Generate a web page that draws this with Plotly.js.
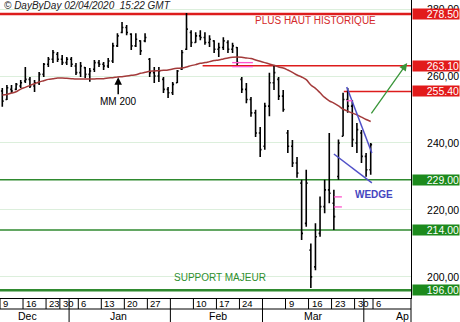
<!DOCTYPE html>
<html><head><meta charset="utf-8">
<script src="https://cdn.plot.ly/plotly-3.0.1.min.js"></script>
<style>html,body{margin:0;padding:0;background:#fff}#c{width:460px;height:322px}</style>
</head><body><div id="c"></div>
<script>
const dates = ['2019-12-09','2019-12-10','2019-12-11','2019-12-12','2019-12-13','2019-12-16','2019-12-17','2019-12-18','2019-12-19','2019-12-20','2019-12-23','2019-12-24','2019-12-27','2019-12-30','2019-12-31','2020-01-02','2020-01-03','2020-01-06','2020-01-07','2020-01-08','2020-01-09','2020-01-10','2020-01-13','2020-01-14','2020-01-15','2020-01-16','2020-01-17','2020-01-20','2020-01-21','2020-01-22','2020-01-23','2020-01-24','2020-01-27','2020-01-28','2020-01-29','2020-01-30','2020-01-31','2020-02-03','2020-02-04','2020-02-05','2020-02-06','2020-02-07','2020-02-10','2020-02-11','2020-02-12','2020-02-13','2020-02-14','2020-02-17','2020-02-18','2020-02-19','2020-02-20','2020-02-21','2020-02-24','2020-02-25','2020-02-26','2020-02-27','2020-02-28','2020-03-02','2020-03-03','2020-03-04','2020-03-05','2020-03-06','2020-03-09','2020-03-10','2020-03-11','2020-03-12','2020-03-13','2020-03-16','2020-03-17','2020-03-18','2020-03-19','2020-03-20','2020-03-23','2020-03-24','2020-03-25','2020-03-26','2020-03-27','2020-03-30','2020-03-31','2020-04-01','2020-04-02'];
const high = [256.4,257.3,257.3,257.9,258.8,262.7,259.7,258.8,261.2,263.9,265.7,267.8,267.2,266.3,265.7,265.7,263.9,264.2,262.7,262.4,264.8,264.8,264.2,265.4,269.9,272.8,276.1,275.2,272.8,272.8,270.7,272.8,265.4,262.7,262.7,259.7,256.7,258.2,261.8,267.8,278.8,273.7,273.1,273.7,273.1,272.2,270.7,269.9,271.6,270.7,269.9,268.7,259.7,257.9,253.7,249.9,244.8,252.0,261.0,263.3,259.7,255.8,243.9,240.9,235.8,229.0,232.0,210.0,216.0,224.0,229.0,243.0,226.0,241.0,255.0,256.4,252.8,246.0,243.9,237.0,240.0];
const low = [250.8,252.8,254.9,255.8,256.4,257.9,256.4,255.2,257.3,259.7,262.7,263.9,264.2,263.3,263.3,262.7,260.3,259.7,259.4,258.3,261.2,262.7,261.8,262.4,263.9,268.7,272.8,272.2,267.8,268.7,266.3,270.1,259.7,257.9,258.2,254.9,253.4,254.3,257.9,261.8,267.8,268.7,269.9,270.7,269.3,268.7,266.9,265.7,267.8,266.9,266.9,263.3,254.9,251.9,247.8,241.8,235.8,238.0,248.0,255.8,252.8,249.3,237.0,232.8,229.6,211.0,215.0,196.7,202.0,212.0,219.0,222.0,214.0,229.0,242.0,249.0,238.8,237.0,234.0,229.9,230.5];
const open = [255.5,253.0,256.0,256.0,257.0,258.5,259.0,257.0,258.0,260.5,263.5,265.0,266.5,265.0,264.0,265.0,263.0,261.0,262.5,260.5,262.0,264.0,263.5,263.0,264.5,269.0,273.0,274.5,272.5,269.0,270.5,270.5,265.0,261.0,260.0,259.0,256.0,255.0,258.0,262.0,268.0,273.0,270.0,272.0,271.5,270.0,270.5,268.0,268.5,270.0,268.0,268.5,259.0,256.0,253.0,249.0,243.0,239.0,251.0,258.0,259.0,254.0,243.0,239.0,234.0,228.0,216.0,208.0,203.0,213.0,221.0,226.0,222.0,230.0,242.0,253.0,251.0,240.0,243.0,236.0,232.0];
const close = [252.5,256.5,255.5,257.5,258.0,259.0,257.0,258.0,260.5,263.5,265.0,267.0,265.0,264.0,265.0,263.5,261.0,263.0,260.5,261.5,264.0,263.5,263.0,264.5,269.0,272.0,274.5,273.0,269.0,271.0,267.5,271.5,261.0,260.0,261.5,256.0,255.0,257.5,261.5,267.0,274.0,270.0,272.0,271.5,270.0,271.0,268.0,268.5,270.5,268.0,269.0,264.0,256.0,253.0,249.0,243.0,238.0,251.0,258.0,261.0,254.0,250.0,239.0,234.0,231.0,213.0,228.0,200.0,212.0,221.0,226.0,225.0,218.0,240.0,253.0,251.0,241.0,244.0,236.0,232.0,239.5];
const ma200 = [254.3,254.5,254.9,255.3,256.1,256.6,257.2,257.7,258.2,258.6,259.0,259.2,259.4,259.4,259.3,259.2,259.1,259.1,259.1,259.1,259.1,259.2,259.2,259.4,259.5,259.7,259.8,260.0,260.2,260.4,260.8,261.1,261.4,261.5,261.6,261.7,261.8,262.1,262.3,262.4,262.7,263.1,263.4,263.8,264.0,264.3,264.6,264.8,265.1,265.4,265.6,265.7,265.6,265.4,265.2,264.8,264.4,264.0,263.6,263.2,262.7,262.4,261.8,261.1,260.3,259.7,258.9,257.3,256.3,255.0,253.6,252.6,251.9,251.1,250.1,249.5,248.9,248.4,247.7,247.0,246.4];

const yTicks = [200, 220, 240, 260, 280];
const yTickText = ['200,00', '220,00', '240,00', '260,00', '280,00'];
const redLevels = [278.5, 263.1, 255.4];
const redLabels = ['278.50', '263.10', '255.40'];
const redStarts = ['2019-12-09', '2020-02-12', '2020-03-25 16:00'];
const greenLevels = [229, 214, 196];
const greenLabels = ['229.00', '214.00', '196.00'];
const dayTickDates = ['2019-12-09','2019-12-16','2019-12-23','2019-12-30','2020-01-06','2020-01-13','2020-01-20','2020-01-27','2020-02-10','2020-02-17','2020-02-24','2020-03-09','2020-03-16','2020-03-23','2020-03-30','2020-04-06'];
const dayTickLabels = ['9','16','23','30','6','13','20','27','10','17','24','9','16','23','30','6'];
const monthDividers = ['2020-01-02','2020-02-03','2020-03-02','2020-04-01'];
const monthLabelDates = ['2019-12-17','2020-01-16 16:00','2020-02-17 07:00','2020-03-17'];
const monthLabels = ['Dec','Jan','Feb','Mar'];
const wedgeUpper = {x: ['2020-03-26 07:00','2020-04-02 18:00'], y: [256.7, 237.0]};
const wedgeLower = {x: ['2020-03-23 12:00','2020-04-02 18:00'], y: [236.7, 228.1]};
const targetArrow = {x0: '2020-04-02 10:00', y0: 248.4, x1: '2020-04-15 10:00', y1: 263.9};
const pinkMarks = [
  {x0: '2020-02-20 10:00', x1: '2020-02-26 22:00', y: 264.0},
  {x0: '2020-02-20 10:00', x1: '2020-02-26 22:00', y: 262.8},
  {x0: '2020-03-23 12:00', x1: '2020-03-25 06:00', y: 223.9},
  {x0: '2020-03-23 12:00', x1: '2020-03-25 06:00', y: 220.9},
  {x0: '2020-03-26 06:00', x1: '2020-03-27 12:00', y: 252.6}
];
const xRange = ['2019-12-09', '2020-04-16 06:00'];
const yRange = [193.7, 282.7];

const FONT = 'Arial, Liberation Sans, sans-serif';
const NARROW = 'Liberation Sans Narrow, Arial Narrow, sans-serif';
const xs = dates.map(d => d + ' 12:00');

const traces = [
  {type: 'ohlc', x: xs, open: open, high: high, low: low, close: close,
   increasing: {line: {color: '#000', width: 1.6}}, decreasing: {line: {color: '#000', width: 1.6}},
   tickwidth: 0.3, hoverinfo: 'skip', showlegend: false},
  {type: 'scatter', mode: 'lines', x: xs, y: ma200, line: {color: '#a33a3a', width: 1.5, shape: 'spline'},
   hoverinfo: 'skip', showlegend: false}
];

const shapes = [];
redLevels.forEach((v, i) => shapes.push({type: 'line', layer: 'below', xref: 'x', yref: 'y',
  x0: redStarts[i], x1: xRange[1], y0: v, y1: v, line: {color: '#dd1c1c', width: i === 0 ? 2.5 : 1.5}}));
greenLevels.forEach((v, i) => shapes.push({type: 'line', layer: 'below', xref: 'x', yref: 'y',
  x0: xRange[0], x1: xRange[1], y0: v, y1: v, line: {color: '#2f8a2f', width: i === 2 ? 2.5 : 1.5}}));
[wedgeUpper, wedgeLower].forEach(w => shapes.push({type: 'line', xref: 'x', yref: 'y',
  x0: w.x[0], x1: w.x[1], y0: w.y[0], y1: w.y[1], line: {color: '#5050c8', width: 1.5}}));
pinkMarks.forEach(p => shapes.push({type: 'line', xref: 'x', yref: 'y',
  x0: p.x0, x1: p.x1, y0: p.y, y1: p.y, line: {color: '#ff55cc', width: 1.3}}));
// calendar strip
const H = 298;
const rowY = -11 / H, botY = -24 / H;
shapes.push({type: 'line', xref: 'paper', yref: 'paper', x0: 0, x1: 1, y0: rowY, y1: rowY, line: {color: '#000', width: 1}});
dayTickDates.forEach(d => shapes.push({type: 'line', xref: 'x', yref: 'paper', x0: d, x1: d, y0: 0, y1: rowY, line: {color: '#000', width: 1}}));
monthDividers.forEach(d => shapes.push({type: 'line', xref: 'x', yref: 'paper', x0: d, x1: d, y0: 0, y1: botY, line: {color: '#000', width: 1}}));
shapes.push({type: 'line', xref: 'paper', yref: 'paper', x0: 1, x1: 1, y0: botY, y1: 0, line: {color: '#000', width: 1}});

const annotations = [];
redLevels.forEach((v, i) => annotations.push({xref: 'paper', yref: 'y', x: 1, y: v, xanchor: 'left', xshift: 1,
  yanchor: 'middle', text: redLabels[i], showarrow: false, bgcolor: '#e21a1a', width: 46, height: 10,
  align: 'right', borderpad: 0, font: {family: FONT, size: 10.5, color: '#fff'}}));
greenLevels.forEach((v, i) => annotations.push({xref: 'paper', yref: 'y', x: 1, y: v, xanchor: 'left', xshift: 1,
  yanchor: 'middle', text: greenLabels[i], showarrow: false, bgcolor: '#1c8a1c', width: 46, height: 10,
  align: 'right', borderpad: 0, font: {family: FONT, size: 10.5, color: '#fff'}}));
dayTickDates.forEach((d, i) => annotations.push({xref: 'x', yref: 'paper', x: d, y: -5.5 / H, xanchor: 'left', xshift: 1,
  yanchor: 'middle', text: dayTickLabels[i], showarrow: false, font: {family: NARROW, size: 9.5, color: '#000'}}));
monthLabelDates.forEach((d, i) => annotations.push({xref: 'x', yref: 'paper', x: d, y: -18 / H, xanchor: 'center',
  yanchor: 'middle', text: monthLabels[i], showarrow: false, font: {family: FONT, size: 10.5, color: '#000'}}));
annotations.push({xref: 'paper', yref: 'paper', x: 1, y: -18 / H, xanchor: 'right', yanchor: 'middle', text: 'Ap',
  showarrow: false, font: {family: FONT, size: 10.5, color: '#000'}});
annotations.push({xref: 'paper', yref: 'paper', x: 0, y: 1 - 6 / H, xanchor: 'left', xshift: 2, yanchor: 'middle',
  text: '<i>© DayByDay 02/04/2020 \u00a015:22 GMT</i>', showarrow: false, font: {family: FONT, size: 10, color: '#222'}});
annotations.push({xref: 'x', yref: 'y', x: '2020-03-17 10:00', y: 276.5, yanchor: 'middle', text: 'PLUS HAUT HISTORIQUE',
  showarrow: false, font: {family: FONT, size: 10, color: '#d42a2a'}});
annotations.push({xref: 'x', yref: 'y', x: '2020-01-16 16:00', y: 259.6, text: 'MM 200', showarrow: true,
  ax: 0, ay: 24, arrowhead: 2, arrowsize: 1, arrowwidth: 1.5, arrowcolor: '#000', standoff: 0,
  font: {family: FONT, size: 10, color: '#000'}});
annotations.push({xref: 'x', yref: 'y', x: '2020-02-03 08:00', y: 199.9, text: 'SUPPORT MAJEUR', showarrow: false,
  xanchor: 'left', font: {family: FONT, size: 10, color: '#2f8f2f'}});
annotations.push({xref: 'x', yref: 'y', x: '2020-04-06 04:00', y: 224.5, text: '<b>WEDGE</b>', showarrow: false,
  font: {family: FONT, size: 10, color: '#4545c0'}});
annotations.push({xref: 'x', yref: 'y', axref: 'x', ayref: 'y', x: targetArrow.x1, y: targetArrow.y1,
  ax: targetArrow.x0, ay: targetArrow.y0, text: '', showarrow: true, arrowhead: 2, arrowsize: 1.2,
  arrowwidth: 1.3, arrowcolor: '#3a963a', standoff: 0});

const layout = {
  width: 460, height: 322, margin: {l: 0, r: 49, t: 0, b: 24},
  paper_bgcolor: '#fff', plot_bgcolor: '#fff', showlegend: false,
  xaxis: {type: 'date', range: xRange, showticklabels: false, ticks: '', showgrid: false, zeroline: false,
    showline: true, linecolor: '#000', linewidth: 1, fixedrange: true, rangeslider: {visible: false},
    rangebreaks: [{bounds: ['sat', 'mon']}, {values: ['2019-12-25', '2019-12-26', '2020-01-01', '2020-04-03']}]},
  yaxis: {side: 'right', range: yRange, tickvals: yTicks, ticktext: yTickText, ticks: '', showgrid: true,
    gridcolor: '#dcefdc', gridwidth: 1, zeroline: false, showline: true, linecolor: '#000', linewidth: 1,
    ticklabelstandoff: 13, tickfont: {family: FONT, size: 10.5, color: '#000'}, fixedrange: true},
  shapes: shapes, annotations: annotations
};
Plotly.newPlot('c', traces, layout, {displayModeBar: false, staticPlot: true});
</script></body></html>
